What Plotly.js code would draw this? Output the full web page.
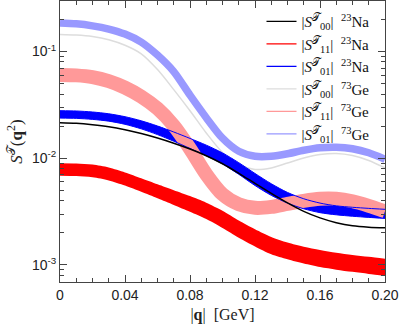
<!DOCTYPE html>
<html>
<head>
<meta charset="utf-8">
<script src="https://cdn.plot.ly/plotly-3.0.1.min.js"></script>
<style>
  html, body { margin: 0; padding: 0; background: #fff; }
  #chart { width: 399px; height: 324px; }
</style>
</head>
<body>
<div id="chart"></div>
<script>
// momentum transfer |q| in GeV
const q = [0, 0.01, 0.02, 0.03, 0.04, 0.05, 0.06, 0.07, 0.08, 0.09, 0.10,
           0.11, 0.12, 0.13, 0.14, 0.15, 0.16, 0.17, 0.18, 0.19, 0.20];

// 23Na structure factors
const naS00 = [0.02154, 0.02127, 0.02063, 0.01976, 0.01852, 0.01705, 0.01547, 0.01383, 0.01220, 0.01056, 0.00888,
               0.00723, 0.00582, 0.00469, 0.00382, 0.00318, 0.00276, 0.00249, 0.00233, 0.00226, 0.00223];
const naS11Hi = [0.00900, 0.00895, 0.00872, 0.00819, 0.00737, 0.00650, 0.00570, 0.00502, 0.00442, 0.00383, 0.00322,
                 0.00261, 0.00216, 0.00183, 0.00162, 0.00148, 0.00138, 0.00130, 0.00124, 0.00119, 0.00114];
const naS11Lo = [0.00685, 0.00680, 0.00662, 0.00619, 0.00554, 0.00484, 0.00421, 0.00365, 0.00315, 0.00269, 0.00222,
                 0.00180, 0.00149, 0.00126, 0.00113, 0.00103, 0.000955, 0.000903, 0.000861, 0.000824, 0.000789];
const naS01Hi = [0.02792, 0.02774, 0.02714, 0.02611, 0.02452, 0.02244, 0.02006, 0.01762, 0.01534, 0.01327, 0.01122,
                 0.00909, 0.00720, 0.00577, 0.00478, 0.00417, 0.00380, 0.00358, 0.00347, 0.00339, 0.00332];
const naS01Lo = [0.02380, 0.02365, 0.02314, 0.02226, 0.02081, 0.01887, 0.01666, 0.01444, 0.01236, 0.01055, 0.00884,
                 0.00707, 0.00555, 0.00449, 0.00380, 0.00336, 0.00309, 0.00295, 0.00286, 0.00279, 0.00273];

// 73Ge structure factors
const geS00 = [0.1444, 0.1428, 0.1383, 0.1291, 0.1146, 0.0953, 0.0678, 0.0440, 0.0279, 0.01727, 0.01134,
               0.00874, 0.00785, 0.00811, 0.00903, 0.01006, 0.01085, 0.01109, 0.01062, 0.00954, 0.00811];
const geS11 = [0.0604, 0.0598, 0.0576, 0.0528, 0.0459, 0.0378, 0.0292, 0.0202, 0.01228, 0.00707, 0.00459,
               0.00370, 0.00343, 0.00350, 0.00374, 0.00399, 0.00417, 0.00417, 0.00395, 0.00358, 0.00318];
const geS01 = [0.1852, 0.1820, 0.1743, 0.1627, 0.1460, 0.1228, 0.0927, 0.0649, 0.0390, 0.0240, 0.01541,
               0.01163, 0.01044, 0.01044, 0.01102, 0.01189, 0.01255, 0.01269, 0.01228, 0.01126, 0.00979];

// ticks
const xTickVals = [0, 0.04, 0.08, 0.12, 0.16, 0.20];
const xTickText = ['0', '0.04', '0.08', '0.12', '0.16', '0.20'];
const yTickVals = [0.001, 0.01, 0.1];
const yTickText = ['10<sup>-3</sup>', '10<sup>-2</sup>', '10<sup>-1</sup>'];

const legendNames = [
  '|<i>S</i><sup>𝒯</sup><sub>00</sub>|  <sup>23</sup>Na',
  '|<i>S</i><sup>𝒯</sup><sub>11</sub>|  <sup>23</sup>Na',
  '|<i>S</i><sup>𝒯</sup><sub>01</sub>|  <sup>23</sup>Na',
  '|<i>S</i><sup>𝒯</sup><sub>00</sub>|  <sup>73</sup>Ge',
  '|<i>S</i><sup>𝒯</sup><sub>11</sub>|  <sup>73</sup>Ge',
  '|<i>S</i><sup>𝒯</sup><sub>01</sub>|  <sup>73</sup>Ge'
];
const legendColors = ['#000000', '#ff0000', '#0000ff', '#dddddd', '#ff9999', '#9999ff'];

const BLUE = '#0000ff';
const RED = '#ff0000';

// minor ticks on the log axis
const yMinor = [];
[0.0001, 0.001, 0.01, 0.1].forEach((dec) => {
  for (let k = 2; k <= 9; k++) yMinor.push(k * dec);
});

function line(y, color, width) {
  return {
    x: q, y: y, type: 'scatter', mode: 'lines', showlegend: false,
    line: { color: color, width: width, shape: 'spline', smoothing: 0.8 },
    hoverinfo: 'skip'
  };
}

function band(lo, hi, color, edge) {
  const a = line(lo, color, edge);
  const b = line(hi, color, edge);
  b.fill = 'tonexty';
  b.fillcolor = color;
  return [a, b];
}

const data = [
  line(geS01, '#9999ff', 7.5),
  line(geS00, '#dddddd', 1.5),
  ...band(naS11Lo, naS11Hi, RED, 0),
  ...band(naS01Lo, naS01Hi, BLUE, 0),
  line(geS11, '#ff9999', 14),
  // band edges redrawn on top of the pink band
  line(naS01Lo, BLUE, 1),
  line(naS01Hi, BLUE, 1),
  line(naS00, '#000000', 1.5)
];

// legend-only entries
legendNames.forEach((name, i) => {
  data.push({
    x: [null], y: [null], type: 'scatter', mode: 'lines', name: name,
    line: { color: legendColors[i], width: 1.3 }
  });
});

const axisCommon = {
  showline: true, linecolor: '#444', linewidth: 1, mirror: 'ticks',
  ticks: 'inside', ticklen: 7, tickcolor: '#444', tickwidth: 1,
  showgrid: false, zeroline: false,
  tickfont: { family: 'Liberation Sans, Arial, sans-serif', size: 14, color: '#222' }
};

const layout = {
  width: 399, height: 324,
  margin: { l: 60, r: 14, t: 1, b: 42 },
  paper_bgcolor: '#fff', plot_bgcolor: '#fff',
  showlegend: true,
  legend: {
    x: 0.62, y: 0.985, xanchor: 'left', yanchor: 'top',
    bgcolor: 'rgba(0,0,0,0)', borderwidth: 0,
    font: { family: 'Liberation Serif, serif', size: 15, color: '#111' },
    traceorder: 'normal', itemwidth: 30
  },
  xaxis: Object.assign({}, axisCommon, {
    range: [0, 0.2],
    tickvals: xTickVals, ticktext: xTickText,
    minor: { dtick: 0.01, tick0: 0, ticks: 'inside', ticklen: 4, tickcolor: '#444' },
    title: { text: '|<b>q</b>|  [GeV]', standoff: 11,
             font: { family: 'Liberation Serif, serif', size: 16, color: '#222' } }
  }),
  yaxis: Object.assign({}, axisCommon, {
    type: 'log', range: [-3.16, -0.526],
    tickvals: yTickVals, ticktext: yTickText,
    minor: { tickvals: yMinor, ticks: 'inside', ticklen: 4, tickcolor: '#444' },
    title: { text: '<i>S</i><sup>𝒯</sup>(<b>q</b><sup>2</sup>)', standoff: 4,
             font: { family: 'Liberation Serif, serif', size: 17, color: '#222' } }
  })
};

Plotly.newPlot('chart', data, layout, { displayModeBar: false, staticPlot: true });
</script>
</body>
</html>
